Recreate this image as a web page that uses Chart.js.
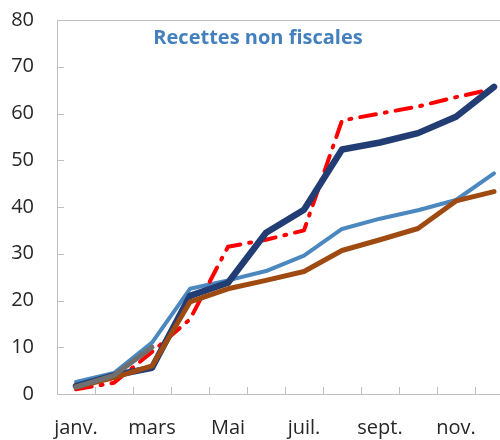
<!DOCTYPE html>
<html>
<head>
<meta charset="utf-8">
<script src="https://cdn.jsdelivr.net/npm/chart.js@4"></script>
<style>
  html, body { margin: 0; padding: 0; background: #fff; overflow: hidden; width: 500px; height: 440px; }
  #wrap { position: absolute; left: 0; top: 0; width: 520px; height: 440px; }
</style>
</head>
<body>
<div id="wrap"><canvas id="c" width="520" height="440"></canvas></div>
<script>
const categories = ['janv.', 'févr.', 'mars', 'avr.', 'Mai', 'juin', 'juil.', 'août', 'sept.', 'oct.', 'nov.', 'déc.'];
const shownLabels = ['janv.', 'mars', 'Mai', 'juil.', 'sept.', 'nov.'];
const titleText = 'Recettes non fiscales';
const yTicks = [0, 10, 20, 30, 40, 50, 60, 70, 80];

const seriesGray  = [1.5, 4, 10, null, null, null, null, null, null, null, null, null];
const seriesRed   = [1, 2.4, 9, 16, 31.5, 33, 35, 58.5, 60, 61.5, 63.5, 65.3];
const seriesBrown = [1.5, 3.5, 6, 19.7, 22.5, 24.3, 26.2, 30.7, 33, 35.4, 41.3, 43.3];
const seriesNavy  = [1.7, 4, 5.6, 21, 23.8, 34.5, 39.4, 52.3, 53.8, 55.8, 59.3, 65.7];
const seriesLight = [2.6, 4.5, 11, 22.5, 24.3, 26.3, 29.6, 35.3, 37.5, 39.3, 41.5, 47.2];

const FONT = "'Open Sans', 'Noto Sans', sans-serif";
const AXIS = '#BFBFBF';
const TICK_LEN = 7;

const titlePlugin = {
  id: 'insideTitle',
  afterDatasetsDraw(chart) {
    const ctx = chart.ctx;
    ctx.save();
    ctx.font = "bold 20px " + FONT;
    ctx.fillStyle = '#4480BD';
    ctx.textAlign = 'center';
    ctx.textBaseline = 'middle';
    ctx.fillText(titleText, chart.width / 2 - 2, 38);
    ctx.restore();
  }
};

// inward tick marks, positioned from the chart's own scales
const innerTicks = {
  id: 'innerTicks',
  beforeDatasetsDraw(chart) {
    const {ctx, chartArea, scales: {x, y}} = chart;
    ctx.save();
    ctx.strokeStyle = AXIS;
    ctx.lineWidth = 1;
    ctx.beginPath();
    yTicks.forEach(v => {
      const py = Math.round(y.getPixelForValue(v)) + 0.5;
      ctx.moveTo(chartArea.left, py);
      ctx.lineTo(chartArea.left + TICK_LEN, py);
    });
    const half = (x.getPixelForValue(1) - x.getPixelForValue(0)) / 2;
    for (let i = 0; i <= categories.length; i++) {
      const px = Math.round(x.getPixelForValue(i) - half) + 0.5;
      ctx.moveTo(px, chartArea.bottom);
      ctx.lineTo(px, chartArea.bottom - TICK_LEN);
    }
    ctx.stroke();
    ctx.restore();
  }
};

const common = { pointRadius: 0, pointHoverRadius: 0, fill: false, tension: 0, borderJoinStyle: 'round', spanGaps: false };

new Chart(document.getElementById('c'), {
  type: 'line',
  data: {
    labels: categories,
    datasets: [
      { ...common, data: seriesGray,  borderColor: '#6F6F6F', borderWidth: 5, borderCapStyle: 'round' },
      { ...common, data: seriesBrown, borderColor: '#9E4A10', borderWidth: 5, borderCapStyle: 'round' },
      { ...common, data: seriesNavy,  borderColor: '#213D74', borderWidth: 6.5, borderCapStyle: 'round' },
      { ...common, data: seriesRed,   borderColor: '#FF0000', borderWidth: 4, borderDash: [16, 9, 2, 9], borderCapStyle: 'round' },
      { ...common, data: seriesLight, borderColor: '#4A88BF', borderWidth: 4, borderCapStyle: 'round' }
    ]
  },
  options: {
    responsive: false,
    animation: false,
    events: [],
    layout: { padding: { left: 0, right: 7, top: 20, bottom: 0 } },
    plugins: { legend: { display: false }, tooltip: { enabled: false }, title: { display: false } },
    scales: {
      x: {
        type: 'category',
        position: 'bottom',
        offset: true,
        grid: { offset: true, display: false, drawOnChartArea: false, drawTicks: false },
        border: { display: true, color: AXIS, width: 1 },
        ticks: {
          autoSkip: false, maxRotation: 0, minRotation: 0, padding: 22,
          color: '#262626', font: { family: FONT, size: 20 },
          callback: function(v, i) { const l = categories[i]; return shownLabels.includes(l) ? l : ''; }
        },
        afterFit(s) { s.height = 46; s.paddingLeft = 0; s.paddingRight = 0; }
      },
      y: {
        type: 'linear',
        position: 'left',
        min: 0, max: 80,
        afterBuildTicks(s) { s.ticks = yTicks.map(v => ({ value: v })); },
        grid: {
          drawOnChartArea: true, drawTicks: false, lineWidth: 1,
          color: (c) => (c.tick && c.tick.value === 80) ? AXIS : 'rgba(0,0,0,0)'
        },
        border: { display: true, color: AXIS, width: 1 },
        ticks: { padding: 23, color: '#262626', font: { family: FONT, size: 20 } },
        afterFit(s) { s.width = 57; s.paddingTop = 0; s.paddingBottom = 0; }
      }
    }
  },
  plugins: [titlePlugin, innerTicks]
});
</script>
</body>
</html>
